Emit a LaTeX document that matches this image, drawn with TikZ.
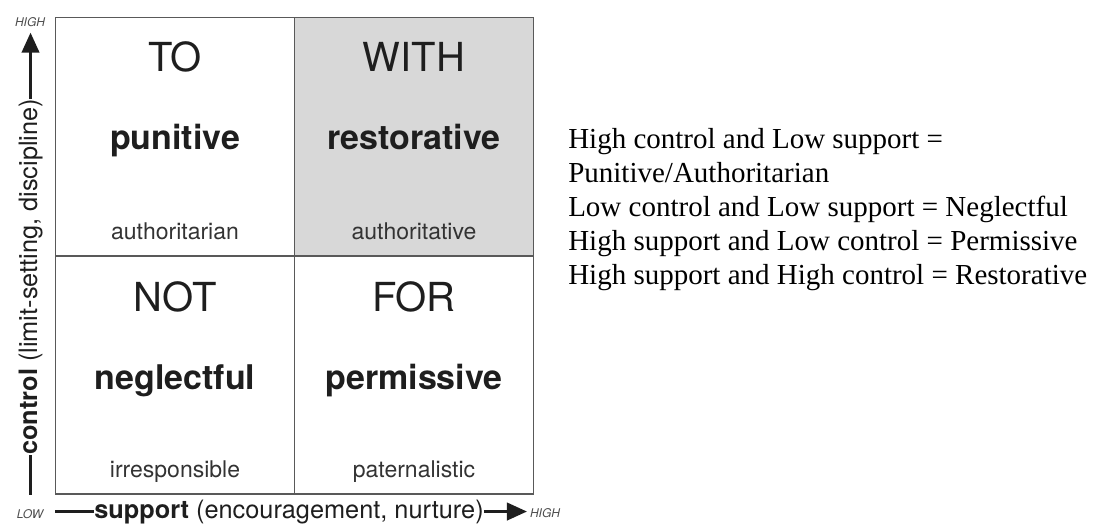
\documentclass[tikz,border=0pt]{standalone}
\usepackage{fontspec}
\setmainfont{TeX Gyre Heros}
\newfontfamily\legendfont{Liberation Serif}
\usepackage{xcolor}
\usetikzlibrary{arrows.meta,positioning}

\definecolor{shade}{RGB}{216,216,216}
\definecolor{ink}{RGB}{30,30,30}

\tikzset{
  cell/.style={draw=black!65, line width=1.4pt, minimum width=179.25pt,
    minimum height=178.5pt, inner sep=0pt},
  kind/.style={font=\fontsize{30}{30}\selectfont, text=ink, anchor=base},
  stance/.style={font=\fontsize{25.5}{25.5}\selectfont\bfseries, text=ink, anchor=base},
  gloss/.style={font=\fontsize{17.25}{17.25}\selectfont, text=black!80, anchor=base},
  axis/.style={font=\fontsize{19}{19}\selectfont, text=ink, inner sep=0pt},
  tick/.style={font=\fontsize{9}{9}\selectfont\itshape, text=black!70, inner sep=0pt},
  axisline/.style={line width=2.2pt, draw=ink},
  axisarrow/.style={line width=2.2pt, draw=ink, -{Triangle[length=15pt,width=13pt]}},
  legend/.style={font=\legendfont\fontsize{21.75}{25.5}\selectfont, align=left,
    inner sep=0pt, anchor=north west}
}

\begin{document}
\begin{tikzpicture}[x=0.75pt, y=-0.75pt]
  \useasboundingbox (0,0) rectangle (1094,525);

  % the four windows
  \node[cell]            (to)   at (175,136.5) {};
  \node[cell,fill=shade] (with) at (414,136.5) {};
  \node[cell]            (not)  at (175,375)   {};
  \node[cell]            (for)  at (414,375)   {};

  \node[kind]   (toT)   at (175,71)  {TO};
  \node[stance] (toS)   at (175,149) {punitive};
  \node[gloss]  (toG)   at (175,239) {authoritarian};

  \node[kind]   (withT) at (414,71)  {WITH};
  \node[stance] (withS) at (414,149) {restorative};
  \node[gloss]  (withG) at (414,239) {authoritative};

  \node[kind]   (notT)  at (175,311) {NOT};
  \node[stance] (notS)  at (175,389) {neglectful};
  \node[gloss]  (notG)  at (175,477) {irresponsible};

  \node[kind]   (forT)  at (414,311) {FOR};
  \node[stance] (forS)  at (414,389) {permissive};
  \node[gloss]  (forG)  at (414,477) {paternalistic};

  % axes
  \node[axis, rotate=90, anchor=base west] (ctl) at (37,455)
    {\textbf{control} (limit-setting, discipline)};
  \node[axis, anchor=base west] (supp) at (94,518)
    {\textbf{support} (encouragement, nurture)};
  \draw[axisline]  (ctl.west)  -- ++(0,40);
  \draw[axisarrow] (ctl.east)  -- ++(0,-66);
  \draw[axisline]  (supp.west) -- ++(-39,0);
  \draw[axisarrow] (supp.east) -- ++(43,0);

  \node[tick] (hiY) at (30,22)  {HIGH};
  \node[tick] (lo)  at (30,514) {LOW};
  \node[tick] (hiX) at (545,513) {HIGH};

  % key
  \node[legend] (key) at (568,128)
    {High control and Low support =\\
     Punitive/Authoritarian\\
     Low control and Low support = Neglectful\\
     High support and Low control = Permissive\\
     High support and High control = Restorative};
\end{tikzpicture}
\end{document}
